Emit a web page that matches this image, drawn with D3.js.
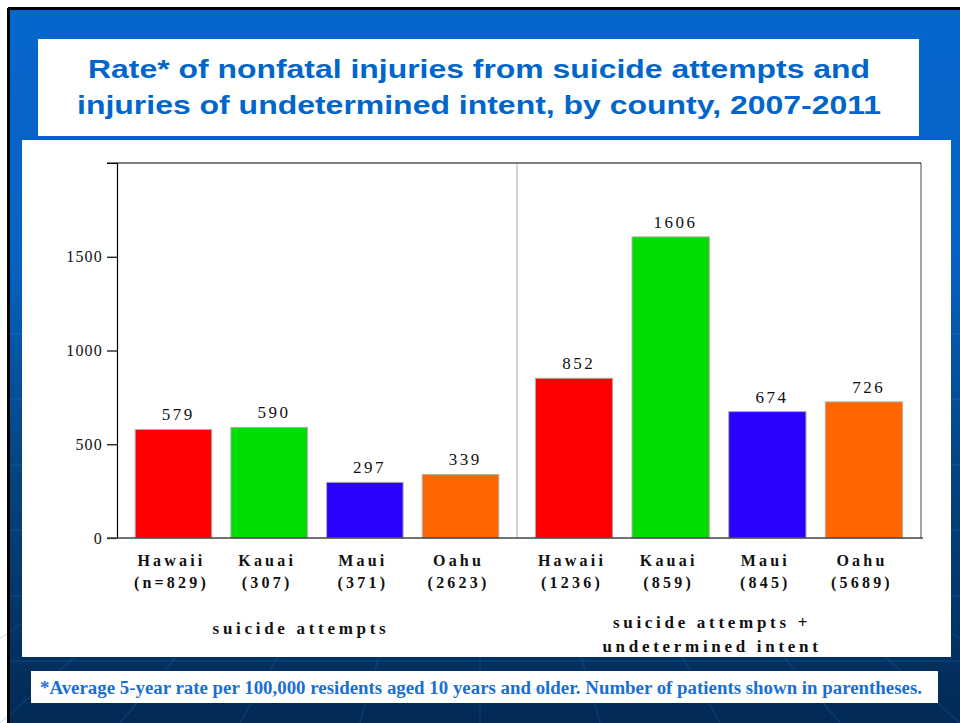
<!DOCTYPE html>
<html>
<head>
<meta charset="utf-8">
<script src="https://cdn.jsdelivr.net/npm/d3@7"></script>
<style>
  html, body { margin: 0; padding: 0; background: #ffffff; }
  svg { display: block; }
</style>
</head>
<body>
<svg id="chart" width="960" height="723"></svg>
<script>
// ---- data ----
const counties = ["Hawaii", "Kauai", "Maui", "Oahu"];
const countyColors = ["#ff0000", "#00dd00", "#2b00ff", "#ff6600"];
const groups = ["suicide attempts", "suicide attempts +\nundetermined intent"];
const attemptRates = [579, 590, 297, 339];
const attemptCounts = ["(n=829)", "(307)", "(371)", "(2623)"];
const combinedRates = [852, 1606, 674, 726];
const combinedCounts = ["(1236)", "(859)", "(845)", "(5689)"];
const yTicks = [0, 500, 1000, 1500];
const yMax = 2000;
const titleLines = [
  "Rate* of nonfatal injuries from suicide attempts and",
  "injuries of undetermined intent, by county, 2007-2011"
];
const footnote = "*Average 5-year rate per 100,000 residents aged 10 years and older.  Number of patients shown  in parentheses.";

const panels = [
  { label: groups[0], rates: attemptRates, counts: attemptCounts },
  { label: groups[1], rates: combinedRates, counts: combinedCounts }
];

const svg = d3.select("#chart");
const W = 960, H = 723;

// ---- slide background ----
const defs = svg.append("defs");
const grad = defs.append("linearGradient")
  .attr("id", "bg").attr("x1", 0).attr("y1", 0).attr("x2", 0).attr("y2", 1);
grad.append("stop").attr("offset", "0").attr("stop-color", "#0566cc");
grad.append("stop").attr("offset", "0.35").attr("stop-color", "#0562c4");
grad.append("stop").attr("offset", "0.65").attr("stop-color", "#04437f");
grad.append("stop").attr("offset", "1").attr("stop-color", "#022a55");

svg.append("rect").attr("x", 8).attr("y", 8).attr("width", W - 8).attr("height", H - 8)
  .attr("fill", "url(#bg)");

// faint perspective grid of the slide theme
const gridG = svg.append("g").attr("stroke", "#2a86e6").attr("stroke-opacity", 0.3).attr("stroke-width", 1.2);
[334, 399, 465, 530, 596, 661].forEach(y => {
  gridG.append("line").attr("x1", 9).attr("x2", W).attr("y1", y).attr("y2", y);
});
const vanishX = 480, vanishY = 300;
d3.range(-9, 10).forEach(i => {
  const xb = vanishX + i * 120;
  gridG.append("line")
    .attr("x1", vanishX + (xb - vanishX) * 0.72).attr("y1", vanishY + (H - vanishY) * 0.72)
    .attr("x2", xb).attr("y2", H)
    .attr("stroke-opacity", 0.22);
});

// black frame on top and left
svg.append("line").attr("x1", 8).attr("x2", W).attr("y1", 8.5).attr("y2", 8.5)
  .attr("stroke", "#000").attr("stroke-width", 3);
svg.append("line").attr("x1", 8.5).attr("x2", 8.5).attr("y1", 8).attr("y2", H)
  .attr("stroke", "#000").attr("stroke-width", 3);

// ---- title box ----
svg.append("rect").attr("x", 38).attr("y", 39).attr("width", 881).attr("height", 97).attr("fill", "#fff");
const titleWidths = [782, 804];
svg.append("g").selectAll("text").data(titleLines).join("text")
  .attr("x", 479).attr("y", (d, i) => 77.5 + i * 36)
  .attr("text-anchor", "middle")
  .attr("font-family", "'Liberation Sans', Arial, sans-serif")
  .attr("font-weight", "bold").attr("font-size", 26)
  .attr("textLength", (d, i) => titleWidths[i])
  .attr("lengthAdjust", "spacingAndGlyphs")
  .attr("fill", "#0066cc")
  .text(d => d);

// ---- chart area ----
svg.append("rect").attr("x", 22).attr("y", 140).attr("width", 929).attr("height", 517).attr("fill", "#fff");

const plot = { left: 117, right: 921, top: 163, bottom: 538, mid: 517 };
const y = d3.scaleLinear().domain([0, yMax]).range([plot.bottom, plot.top]);

const serif = "'Liberation Serif', 'Times New Roman', serif";

// panel divider and right frame
svg.append("line").attr("x1", plot.mid).attr("x2", plot.mid).attr("y1", plot.top).attr("y2", plot.bottom)
  .attr("stroke", "#aaaaaa").attr("stroke-width", 1);
svg.append("line").attr("x1", plot.right).attr("x2", plot.right).attr("y1", plot.top).attr("y2", plot.bottom)
  .attr("stroke", "#666").attr("stroke-width", 1.2);
svg.append("line").attr("x1", 107).attr("x2", plot.right).attr("y1", plot.top).attr("y2", plot.top)
  .attr("stroke", "#000").attr("stroke-width", 1.2);

// y axis
const yAxis = d3.axisLeft(y).tickValues(yTicks).tickFormat(d3.format("d")).tickSize(10).tickPadding(4);
const yG = svg.append("g").attr("transform", `translate(${plot.left},0)`).call(yAxis);
yG.select(".domain").attr("stroke", "#000").attr("stroke-width", 1.2);
yG.selectAll(".tick line").attr("stroke", "#000").attr("stroke-width", 1.2);
yG.selectAll(".tick text")
  .attr("font-family", serif).attr("font-size", 16).attr("fill", "#111")
  .attr("letter-spacing", "1.2px");

// bars, value labels and category labels per panel
const panelRanges = [[plot.left, plot.mid], [plot.mid, plot.right]];
panels.forEach((p, pi) => {
  const x = d3.scaleBand().domain(counties).range(panelRanges[pi])
    .paddingInner(0.2).paddingOuter(0.19);
  const g = svg.append("g");
  const rows = counties.map((c, i) => ({ c, v: p.rates[i], n: p.counts[i], col: countyColors[i] }));
  const mid = d => x(d.c) + x.bandwidth() / 2;

  g.selectAll("rect").data(rows).join("rect")
    .attr("x", d => x(d.c)).attr("width", x.bandwidth())
    .attr("y", d => y(d.v)).attr("height", d => y(0) - y(d.v))
    .attr("fill", d => d.col).attr("stroke", "#b0b0b0").attr("stroke-width", 1);

  g.selectAll("text.value").data(rows).join("text").attr("class", "value")
    .attr("x", d => mid(d) + 4.75).attr("y", d => y(d.v) - 9)
    .attr("text-anchor", "middle")
    .attr("font-family", serif).attr("font-size", 17).attr("letter-spacing", "2.5px")
    .attr("fill", "#111")
    .text(d => d.v);

  const cat = g.selectAll("text.cat").data(rows).join("text").attr("class", "cat")
    .attr("text-anchor", "middle")
    .attr("font-family", serif).attr("font-weight", "bold").attr("font-size", 16)
    .attr("letter-spacing", "3.2px").attr("fill", "#111");
  cat.append("tspan").attr("x", d => mid(d) - 2).attr("y", 566).text(d => d.c);
  cat.append("tspan").attr("x", d => mid(d) - 2).attr("y", 588).text(d => d.n);

  const cx = (panelRanges[pi][0] + panelRanges[pi][1]) / 2;
  const lines = p.label.split("\n");
  const y0 = lines.length === 1 ? 634 : 628;
  svg.append("g").selectAll("text").data(lines).join("text")
    .attr("x", cx + (pi === 0 ? -16 : -7)).attr("y", (d, i) => y0 + i * 24)
    .attr("text-anchor", "middle")
    .attr("font-family", serif).attr("font-weight", "bold").attr("font-size", 17)
    .attr("letter-spacing", "3.7px").attr("fill", "#111")
    .text(d => d);
});

// baseline drawn over the bars
svg.append("line").attr("x1", 107).attr("x2", plot.right + 2).attr("y1", plot.bottom).attr("y2", plot.bottom)
  .attr("stroke", "#444").attr("stroke-width", 1.4);

// ---- footnote box ----
svg.append("rect").attr("x", 31).attr("y", 671).attr("width", 907).attr("height", 32).attr("fill", "#fff");
svg.append("text")
  .attr("x", 481).attr("y", 694)
  .attr("text-anchor", "middle")
  .attr("font-family", serif).attr("font-weight", "bold").attr("font-size", 18)
  .attr("textLength", 882).attr("lengthAdjust", "spacingAndGlyphs")
  .attr("fill", "#1a6fd2")
  .text(footnote);
</script>
</body>
</html>
